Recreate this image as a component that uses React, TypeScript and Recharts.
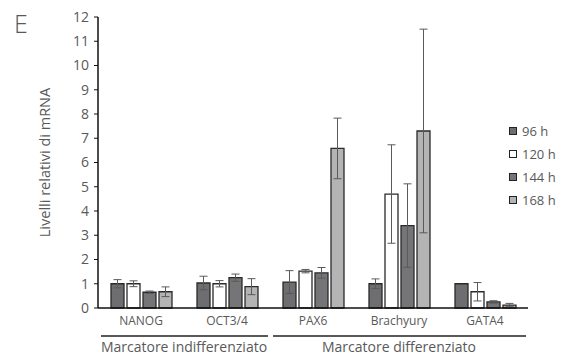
import { BarChart, Bar, XAxis, YAxis, ErrorBar } from "recharts";

// marker genes on the x axis
const markers = ["NANOG", "OCT3/4", "PAX6", "Brachyury", "GATA4"];
const groups = [
  { label: "Marcatore indifferenziato", from: 0, to: 1 },
  { label: "Marcatore differenziato", from: 2, to: 4 },
];

const timepoints = ["96 h", "120 h", "144 h", "168 h"];
const colors = ["#6e6d70", "#ffffff", "#757577", "#b4b4b4"];

// relative mRNA levels, one array per timepoint
const h96 = [1.0, 1.03, 1.07, 1.0, 1.0];
const h120 = [1.0, 1.0, 1.52, 4.7, 0.67];
const h144 = [0.65, 1.25, 1.45, 3.4, 0.25];
const h168 = [0.67, 0.88, 6.58, 7.3, 0.12];

// standard deviations
const e96 = [0.17, 0.28, 0.47, 0.2, 0];
const e120 = [0.12, 0.13, 0.07, 2.03, 0.38];
const e144 = [0.05, 0.15, 0.22, 1.72, 0.05];
const e168 = [0.2, 0.33, 1.25, 4.2, 0.07];

const yTicks = [0, 1, 2, 3, 4, 5, 6, 7, 8, 9, 10, 11, 12];

const series = [h96, h120, h144, h168];
const errors = [e96, e120, e144, e168];

const data = markers.map((m, i) => {
  const row: Record<string, string | number> = { marker: m };
  series.forEach((s, j) => {
    row["v" + j] = s[i];
    row["e" + j] = errors[j][i];
  });
  return row;
});

const FONT = "'Open Sans', 'Noto Sans', sans-serif";
const TEXT = "#595959";
const W = 575;
const H = 356;
const margin = { top: 17, right: 47, bottom: 0, left: 0 };
const yAxisWidth = 98;
const step = (W - margin.right - yAxisWidth) / markers.length;

function MarkerTick(props: any) {
  const { x, y, payload, index } = props;
  const g = groups.find((gr) => gr.from === index);
  return (
    <g>
      <text x={x} y={y + 9} textAnchor="middle" fill={TEXT} fontSize={12} fontFamily={FONT}>
        {payload.value}
      </text>
      {g && (
        <g>
          <line
            x1={x - step / 2 + 3}
            x2={x + (g.to - g.from) * step + step / 2 - 2}
            y1={y + 20}
            y2={y + 20}
            stroke="#222"
            strokeWidth={1.3}
          />
          <text
            x={x + ((g.to - g.from) * step) / 2}
            y={y + 36}
            textAnchor="middle"
            fill={TEXT}
            fontSize={14}
            fontFamily={FONT}
          >
            {g.label}
          </text>
        </g>
      )}
    </g>
  );
}

export default function App() {
  return (
    <div style={{ position: "absolute", left: 0, top: 0, width: W, height: H, background: "#fff" }}>
      <div
        style={{
          position: "absolute",
          left: 14,
          top: 6,
          fontFamily: FONT,
          fontSize: 25,
          fontWeight: 300,
          color: TEXT,
        }}
      >
        E
      </div>
      <BarChart
        width={W}
        height={H}
        data={data}
        margin={margin}
        barSize={13}
        barGap={3}
      >
        <XAxis
          dataKey="marker"
          height={48}
          tickLine={false}
          axisLine={{ stroke: "#111", strokeWidth: 1.5 }}
          tick={<MarkerTick />}
          interval={0}
        />
        <YAxis
          width={yAxisWidth}
          domain={[0, 12]}
          ticks={yTicks}
          interval={0}
          tickSize={4}
          tickMargin={5}
          axisLine={{ stroke: "#111", strokeWidth: 1.5 }}
          tickLine={{ stroke: "#111" }}
          tick={{ fill: TEXT, fontSize: 14, fontFamily: FONT }}
          label={{
            value: "Livelli relativi di mRNA",
            angle: -90,
            position: "center",
            dx: -4,
            fill: TEXT,
            fontSize: 14.5,
            fontFamily: FONT,
          }}
        />
        {timepoints.map((t, j) => (
          <Bar
            key={t}
            dataKey={"v" + j}
            name={t}
            fill={colors[j]}
            stroke="#2a2a2a"
            strokeWidth={1.3}
            isAnimationActive={false}
          >
            <ErrorBar dataKey={"e" + j} width={4} stroke="#5a5a5a" strokeWidth={1} />
          </Bar>
        ))}
      </BarChart>
      <div style={{ position: "absolute", left: 509, top: 119 }}>
        {timepoints.map((t, j) => (
          <div
            key={t}
            style={{
              display: "flex",
              alignItems: "center",
              height: 23,
              fontFamily: FONT,
              fontSize: 13,
              color: TEXT,
            }}
          >
            <span
              style={{
                display: "inline-block",
                width: 6,
                height: 6,
                background: colors[j],
                border: "1.3px solid #222",
                marginRight: 5,
              }}
            />
            {t}
          </div>
        ))}
      </div>
    </div>
  );
}
